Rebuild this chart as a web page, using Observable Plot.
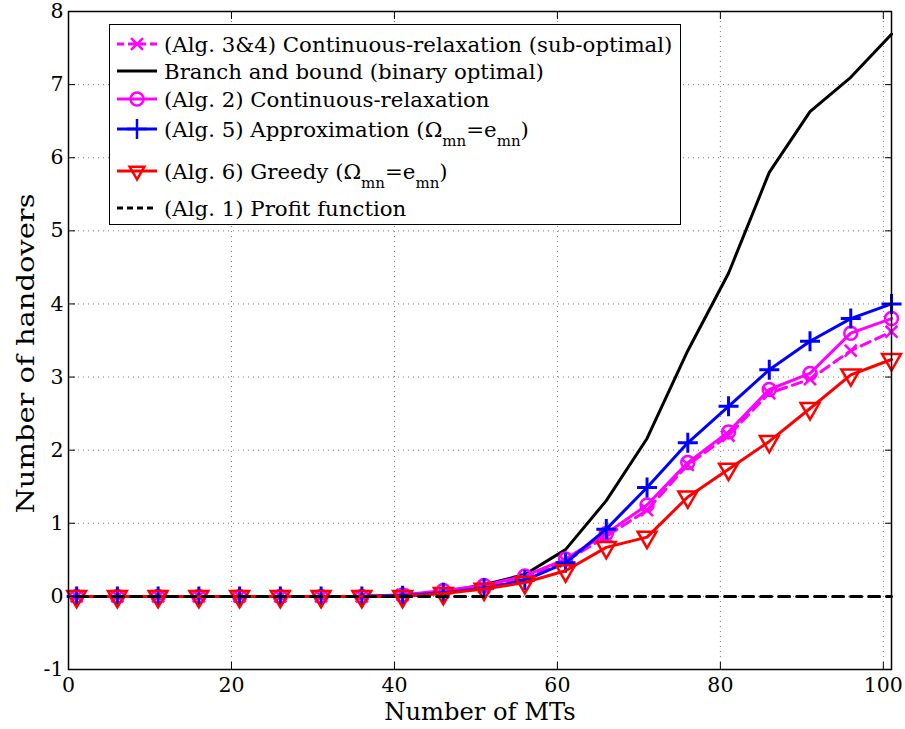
<!DOCTYPE html>
<html>
<head>
<meta charset="utf-8">
<script src="https://cdn.jsdelivr.net/npm/d3@7"></script>
<script src="https://cdn.jsdelivr.net/npm/@observablehq/plot@0.6"></script>
<style>
  body { margin: 0; background: #fff; }
  #wrap { position: relative; width: 905px; height: 729px; font-family: "DejaVu Serif", serif; }
  #legend { position: absolute; left: 109px; top: 24px; width: 572px; height: 201px; border: 1.5px solid #000; background: #fff; box-sizing: border-box; }
  .row { position: absolute; left: 0; height: 28px; display: flex; align-items: center; font-size: 21.3px; color: #000; white-space: nowrap; }
  .row svg { margin-left: 6px; margin-right: 6px; }
  sub { font-size: 15px; vertical-align: -9px; line-height: 0; }
</style>
</head>
<body>
<div id="wrap"></div>
<script>
// ---- data ----
const mts = [1, 6, 11, 16, 21, 26, 31, 36, 41, 46, 51, 56, 61, 66, 71, 76, 81, 86, 91, 96, 101];
const alg34 = [0, 0, 0, 0, 0, 0, 0, 0, 0.02, 0.06, 0.13, 0.25, 0.48, 0.82, 1.18, 1.8, 2.2, 2.78, 2.97, 3.36, 3.62];
const branchBound = [0, 0, 0, 0, 0, 0, 0, 0, 0.02, 0.06, 0.16, 0.3, 0.64, 1.31, 2.16, 3.36, 4.42, 5.8, 6.63, 7.1, 7.69];
const alg2 = [0, 0, 0, 0, 0, 0, 0, 0, 0.02, 0.08, 0.15, 0.28, 0.51, 0.86, 1.25, 1.83, 2.25, 2.83, 3.05, 3.6, 3.8];
const alg5 = [0, 0, 0, 0, 0, 0, 0, 0, 0.01, 0.05, 0.11, 0.22, 0.46, 0.92, 1.49, 2.1, 2.6, 3.1, 3.49, 3.8, 4.0];
const alg6 = [0, 0, 0, 0, 0, 0, 0, 0, 0, 0.04, 0.1, 0.19, 0.35, 0.67, 0.81, 1.36, 1.74, 2.12, 2.57, 3.03, 3.24];
const alg1 = [0, 0, 0, 0, 0, 0, 0, 0, 0, 0, 0, 0, 0, 0, 0, 0, 0, 0, 0, 0, 0];
const xTicks = [0, 20, 40, 60, 80, 100];
const yTicks = [-1, 0, 1, 2, 3, 4, 5, 6, 7, 8];
const xLabel = "Number of MTs";
const yLabel = "Number of handovers";
const legendLabels = [
  "(Alg. 3&4) Continuous-relaxation (sub-optimal)",
  "Branch and bound (binary optimal)",
  "(Alg. 2) Continuous-relaxation",
  "(Alg. 5) Approximation (Ω<sub>mn</sub>=e<sub>mn</sub>)",
  "(Alg. 6) Greedy (Ω<sub>mn</sub>=e<sub>mn</sub>)",
  "(Alg. 1) Profit function"
];

const table = (ys) => mts.map((x, i) => ({x, y: ys[i]}));
const MAG = "#ff00ff", BLUE = "#0000ff", RED = "#ff0000";

const grid = {stroke: "#777", strokeOpacity: 1, strokeDasharray: "1,4", strokeWidth: 1};
const fmt = (d) => String(d);

const chart = Plot.plot({
  width: 905,
  height: 729,
  marginLeft: 68,
  marginRight: 14,
  marginTop: 11,
  marginBottom: 60,
  style: {fontFamily: "DejaVu Serif, serif", background: "#fff", color: "#000"},
  x: {domain: [0, 101], ticks: xTicks},
  y: {domain: [-1, 8], ticks: yTicks},
  marks: [
    Plot.gridX(xTicks, grid),
    Plot.gridY(yTicks, grid),
    // series in legend (draw) order
    Plot.line(table(alg34), {x: "x", y: "y", stroke: MAG, strokeWidth: 3, strokeDasharray: "10,6"}),
    Plot.dot(table(alg34), {x: "x", y: "y", symbol: "times", r: 5.5, stroke: MAG, strokeWidth: 2.5}),
    Plot.line(table(branchBound), {x: "x", y: "y", stroke: "#000", strokeWidth: 3}),
    Plot.line(table(alg2), {x: "x", y: "y", stroke: MAG, strokeWidth: 3}),
    Plot.dot(table(alg2), {x: "x", y: "y", symbol: "circle", r: 6.5, stroke: MAG, fill: "none", strokeWidth: 2.5}),
    Plot.line(table(alg5), {x: "x", y: "y", stroke: BLUE, strokeWidth: 3}),
    Plot.dot(table(alg5), {x: "x", y: "y", symbol: "plus", r: 6.5, stroke: BLUE, strokeWidth: 3}),
    Plot.line(table(alg6), {x: "x", y: "y", stroke: RED, strokeWidth: 3}),
    Plot.dot(table(alg6), {x: "x", y: "y", symbol: "triangle", rotate: 180, r: 7, stroke: RED, fill: "none", strokeWidth: 2.5}),
    Plot.line(table(alg1), {x: "x", y: "y", stroke: "#000", strokeWidth: 3, strokeDasharray: "11,7"}),
    Plot.frame({stroke: "#000", strokeWidth: 1.5}),
    Plot.axisX(xTicks, {anchor: "bottom", tickSize: -7, tickPadding: 15, fontSize: 20.5, label: null, tickFormat: fmt}),
    Plot.axisX(xTicks, {anchor: "top", tickSize: -7, tickFormat: () => "", label: null}),
    Plot.axisY(yTicks, {anchor: "left", tickSize: -7, tickPadding: 12, fontSize: 20.5, label: null, tickFormat: fmt}),
    Plot.axisY(yTicks, {anchor: "right", tickSize: -7, tickFormat: () => "", label: null}),
    Plot.text([xLabel], {frameAnchor: "bottom", textAnchor: "middle", lineAnchor: "middle", dy: 43, fontSize: 24.2, fill: "#000"}),
    Plot.text([yLabel], {frameAnchor: "left", textAnchor: "middle", lineAnchor: "middle", dx: -43, dy: 13, rotate: -90, fontSize: 25, fill: "#000", className: "ylab"})
  ]
});

// stretch the y title along its length like the reference
d3.select(chart).selectAll(".ylab text").attr("textLength", 320).attr("lengthAdjust", "spacingAndGlyphs");

const wrap = document.getElementById("wrap");
wrap.appendChild(chart);

// ---- legend ----
const legend = document.createElement("div");
legend.id = "legend";
wrap.appendChild(legend);
const rowCenters = [19, 46, 74, 104, 146, 183];
const samples = [
  {stroke: MAG, dash: "7,4", symbol: d3.symbolTimes, sym: MAG, r: 5.5},
  {stroke: "#000", dash: null, symbol: null},
  {stroke: MAG, dash: null, symbol: d3.symbolCircle, sym: MAG, r: 6.5},
  {stroke: BLUE, dash: null, symbol: d3.symbolPlus, sym: BLUE, r: 6.5},
  {stroke: RED, dash: null, symbol: d3.symbolTriangle2, sym: RED, r: 7, rotate: 180},
  {stroke: "#000", dash: "6,4", symbol: null}
];
legendLabels.forEach((lab, i) => {
  const row = document.createElement("div");
  row.className = "row";
  row.style.top = (rowCenters[i] - 14) + "px";
  const s = samples[i];
  const svg = d3.create("svg").attr("width", 42).attr("height", 28);
  svg.append("line").attr("x1", 1).attr("x2", 41).attr("y1", 14).attr("y2", 14)
    .attr("stroke", s.stroke).attr("stroke-width", 3).attr("stroke-dasharray", s.dash);
  if (s.symbol) {
    svg.append("path").attr("d", d3.symbol(s.symbol, Math.PI * s.r * s.r)())
      .attr("transform", `translate(21,14) rotate(${s.rotate || 0})`)
      .attr("fill", "none").attr("stroke", s.sym).attr("stroke-width", 2.5);
  }
  row.appendChild(svg.node());
  const span = document.createElement("span");
  span.innerHTML = lab;
  row.appendChild(span);
  legend.appendChild(row);
});
</script>
</body>
</html>
